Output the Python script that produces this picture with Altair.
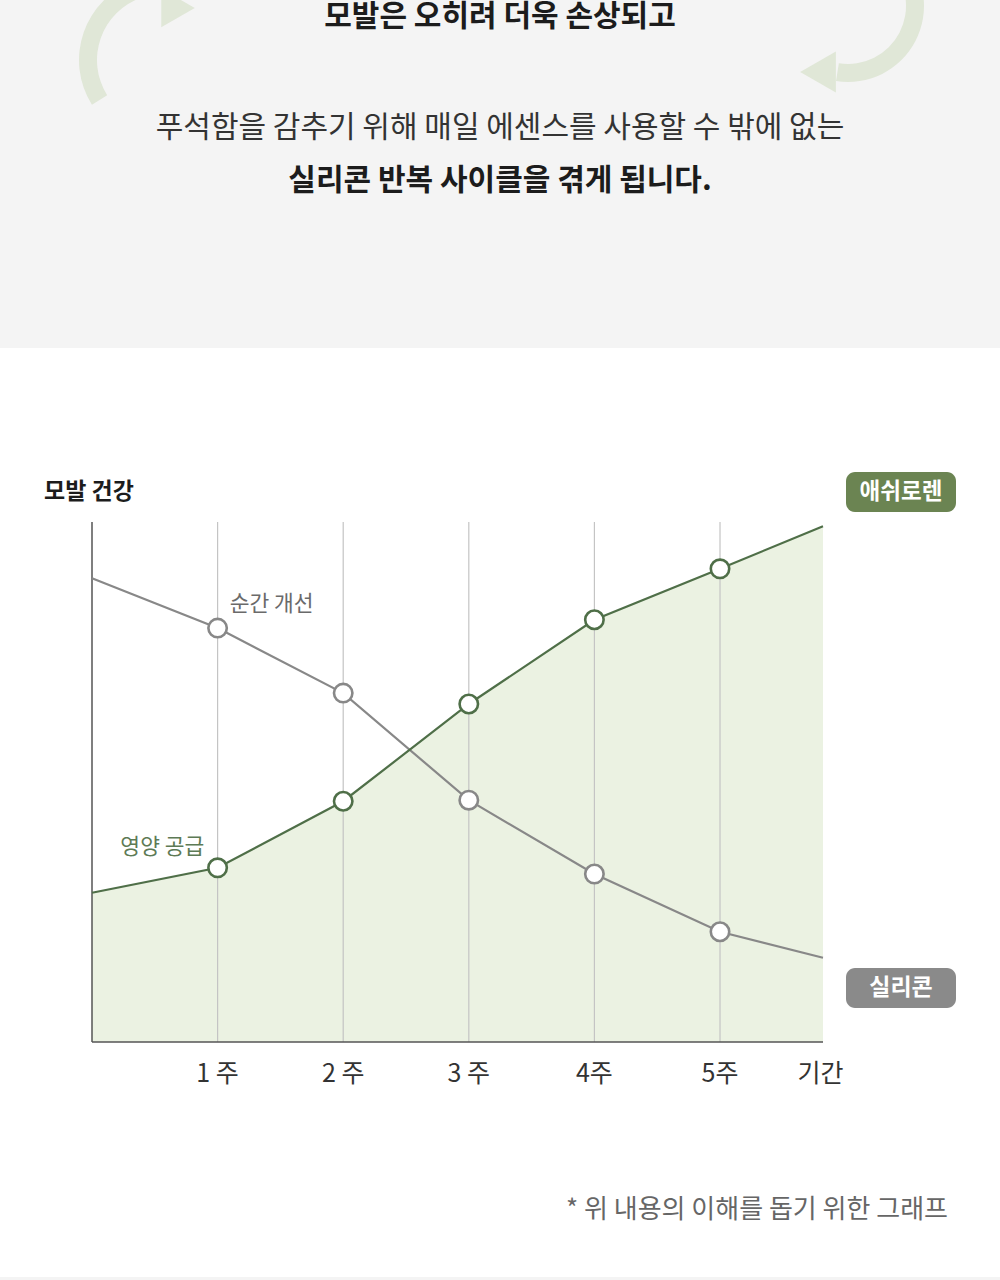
import altair as alt
import pandas as pd

# ---- data ----
weeks = [0, 1, 2, 3, 4, 5, 5.82]
ashlauren = [28.7, 33.5, 46.3, 65.0, 81.2, 91.0, 99.2]
silicone = [89.2, 79.6, 67.1, 46.5, 32.3, 21.2, 16.2]
marker_weeks = [1, 2, 3, 4, 5]
tick_labels = ["1 주", "2 주", "3 주", "4주", "5주"]
axis_end_label = "기간"
y_title = "모발 건강"
series_names = ["애쉬로렌", "실리콘"]
line_notes = ["영양 공급", "순간 개선"]
header_lines = ["모발은 오히려 더욱 손상되고",
                "푸석함을 감추기 위해 매일 에센스를 사용할 수 밖에 없는",
                "실리콘 반복 사이클을 겪게 됩니다."]
footnote = "* 위 내용의 이해를 돕기 위한 그래프"

FONT = "Noto Sans CJK KR"
GREEN = "#4f6f48"
FILL = "#ebf2e2"
GRAY = "#888888"

df_a = pd.DataFrame({"week": weeks, "v": ashlauren})
df_s = pd.DataFrame({"week": weeks, "v": silicone})
df_pa = df_a[df_a.week.isin(marker_weeks)]
df_ps = df_s[df_s.week.isin(marker_weeks)]
df_grid = pd.DataFrame({"week": marker_weeks, "y0": [0] * 5, "y1": [100] * 5})
df_left = pd.DataFrame({"week": [0], "y0": [0], "y1": [100]})
df_bottom = pd.DataFrame({"week": [0], "w2": [weeks[-1]], "v": [0]})
df_ticks = pd.DataFrame({"week": marker_weeks + [weeks[-1] - 0.02], "label": tick_labels + [axis_end_label]})
df_notes = pd.DataFrame({"week": [0.56, 1.43], "v": [37.4, 84.0], "label": line_notes,
                         "series": series_names})

xs = alt.Scale(domain=[0, 5.82], range=[92, 823], nice=False, zero=False)
ys = alt.Scale(domain=[0, 100], range=[1042, 522], nice=False, zero=False)
X = alt.X("week:Q", scale=xs, axis=None)
Y = alt.Y("v:Q", scale=ys, axis=None)

base_bg = alt.Chart(pd.DataFrame({"a": [0]}))

# header background
bg = base_bg.mark_rect(color="#f4f4f4").encode(
    x=alt.value(0), x2=alt.value(1000), y=alt.value(0), y2=alt.value(348))
bottom_strip = base_bg.mark_rect(color="#f4f4f4").encode(
    x=alt.value(0), x2=alt.value(1000), y=alt.value(1277), y2=alt.value(1280))

# faint decorative arrows
ARROW = "#e0e7d7"
arc_l = base_bg.mark_arc(color=ARROW, radius=84, radius2=66, theta=4.15, theta2=5.95).encode(
    x=alt.value(163), y=alt.value(60))
head_l = base_bg.mark_point(shape="triangle-right", filled=True, color=ARROW, opacity=1, size=1500).encode(
    x=alt.value(178), y=alt.value(8))
arc_r = base_bg.mark_arc(color=ARROW, radius=76, radius2=58, theta=0.8, theta2=3.3).encode(
    x=alt.value(848), y=alt.value(6))
head_r = base_bg.mark_point(shape="triangle-left", filled=True, color=ARROW, opacity=1, size=1700).encode(
    x=alt.value(818), y=alt.value(72))

h1 = base_bg.mark_text(font=FONT, fontSize=30, fontWeight="bold", color="#1c1c1c", baseline="top").encode(
    x=alt.value(500), y=alt.value(2), text=alt.value(header_lines[0]))
h2 = base_bg.mark_text(font=FONT, fontSize=30, color="#333333", baseline="middle").encode(
    x=alt.value(500), y=alt.value(128), text=alt.value(header_lines[1]))
h3 = base_bg.mark_text(font=FONT, fontSize=30, fontWeight="bold", color="#1c1c1c", baseline="middle").encode(
    x=alt.value(500), y=alt.value(181), text=alt.value(header_lines[2]))

# chart body
area = alt.Chart(df_a).mark_area(color=FILL, opacity=1).encode(x=X, y=Y)
grid = alt.Chart(df_grid).mark_rule(color="#c4c4c4", strokeWidth=1.2).encode(
    x=X, y=alt.Y("y0:Q", scale=ys, axis=None), y2="y1:Q")
axis_left = alt.Chart(df_left).mark_rule(color="#555555", strokeWidth=1.5).encode(
    x=X, y=alt.Y("y0:Q", scale=ys, axis=None), y2="y1:Q")
axis_bottom = alt.Chart(df_bottom).mark_rule(color="#555555", strokeWidth=1.5).encode(
    x=X, x2="w2:Q", y=Y)

line_s = alt.Chart(df_s).mark_line(color=GRAY, strokeWidth=2.2).encode(x=X, y=Y)
line_a = alt.Chart(df_a).mark_line(color=GREEN, strokeWidth=2.2).encode(x=X, y=Y)
pts_s = alt.Chart(df_ps).mark_point(filled=True, fill="white", stroke=GRAY, strokeWidth=2.6,
                                    size=340, opacity=1).encode(x=X, y=Y)
pts_a = alt.Chart(df_pa).mark_point(filled=True, fill="white", stroke=GREEN, strokeWidth=2.6,
                                    size=340, opacity=1).encode(x=X, y=Y)

ticks = alt.Chart(df_ticks).mark_text(font=FONT, fontSize=25, color="#333333", baseline="middle").encode(
    x=X, y=alt.value(1074), text="label:N")

ytitle = base_bg.mark_text(font=FONT, fontSize=23, fontWeight="bold", color="#1c1c1c",
                           align="left", baseline="middle").encode(
    x=alt.value(44), y=alt.value(492), text=alt.value(y_title))

notes = alt.Chart(df_notes).mark_text(font=FONT, fontSize=21.5, baseline="middle").encode(
    x=X, y=Y, text="label:N",
    color=alt.Color("series:N", scale=alt.Scale(domain=series_names, range=["#5d7a55", "#6a6a6a"]),
                    legend=None))

badge_a = base_bg.mark_rect(color="#6b8452", cornerRadius=9).encode(
    x=alt.value(846), x2=alt.value(956), y=alt.value(472), y2=alt.value(512))
badge_a_t = base_bg.mark_text(font=FONT, fontSize=22.5, fontWeight="bold", color="white", baseline="middle").encode(
    x=alt.value(901), y=alt.value(492), text=alt.value(series_names[0]))
badge_s = base_bg.mark_rect(color="#8a8a8a", cornerRadius=9).encode(
    x=alt.value(846), x2=alt.value(956), y=alt.value(968), y2=alt.value(1008))
badge_s_t = base_bg.mark_text(font=FONT, fontSize=23, fontWeight="bold", color="white", baseline="middle").encode(
    x=alt.value(901), y=alt.value(988), text=alt.value(series_names[1]))

foot = base_bg.mark_text(font=FONT, fontSize=26, color="#666666", align="right", baseline="middle").encode(
    x=alt.value(948), y=alt.value(1210), text=alt.value(footnote))

chart = alt.layer(
    bg, bottom_strip, arc_l, head_l, arc_r, head_r, h1, h2, h3,
    area, grid, axis_left, axis_bottom, line_s, line_a, pts_s, pts_a,
    ticks, ytitle, notes, badge_a, badge_a_t, badge_s, badge_s_t, foot
).properties(
    width=1000, height=1280, background="white",
    autosize=alt.AutoSizeParams(type="none"), padding=0
).configure_view(stroke=None)

chart.save("out.html", embed_options={"renderer": "svg", "actions": False})
